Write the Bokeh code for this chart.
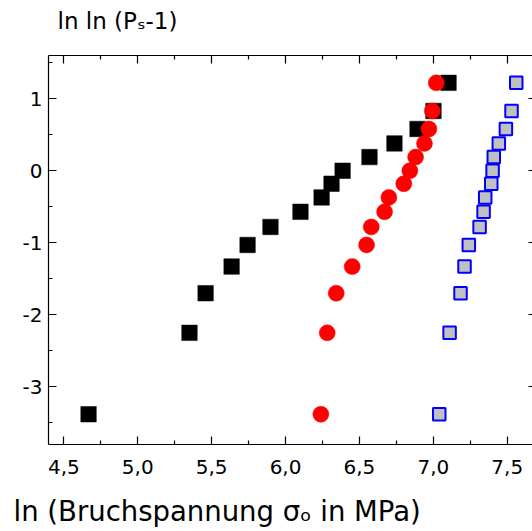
from bokeh.plotting import figure
from bokeh.models import LinearAxis, FixedTicker, CustomJSTickFormatter, Range1d, Title
from bokeh.embed import file_html
from bokeh.resources import INLINE

# Weibull plot: ln ln(1/(1-P)) against ln of the fracture stress for three materials
weibull_y = [-3.38, -2.25, -1.70, -1.33, -1.03, -0.78, -0.57, -0.37,
             -0.18, 0.00, 0.19, 0.38, 0.58, 0.83, 1.22]
ln_sigma_black = [4.667, 5.350, 5.459, 5.635, 5.743, 5.898, 6.101, 6.244,
                  6.311, 6.386, 6.568, 6.737, 6.893, 7.001, 7.103]
ln_sigma_red = [6.239, 6.282, 6.343, 6.451, 6.548, 6.580, 6.670, 6.699,
                6.800, 6.841, 6.880, 6.940, 6.970, 6.993, 7.020]
ln_sigma_blue = [7.040, 7.110, 7.184, 7.211, 7.240, 7.313, 7.340, 7.351,
                 7.392, 7.401, 7.409, 7.443, 7.491, 7.529, 7.561]

x_major = [4.5, 5.0, 5.5, 6.0, 6.5, 7.0, 7.5]
x_minor = [4.75, 5.25, 5.75, 6.25, 6.75, 7.25]
y_major = [-3, -2, -1, 0, 1]
y_minor = [-3.5, -2.5, -1.5, -0.5, 0.5, 1.5]

y_title = "ln ln (P\u209b-1)"
x_title = "ln (Bruchspannung \u03c3\u2092 in MPa)"

FONT = "DejaVu Sans"

p = figure(width=532, height=531, title=None,
           x_range=Range1d(4.396, 7.671), y_range=Range1d(-3.8, 1.6),
           output_backend="svg", toolbar_location=None,
           min_border_left=48, min_border_right=0,
           min_border_top=55, min_border_bottom=87,
           background_fill_color="white", border_fill_color="white")
p.grid.visible = False
p.outline_line_color = None

comma_fmt = CustomJSTickFormatter(code="return tick.toFixed(1).replace('.', ',');")
int_fmt = CustomJSTickFormatter(code="return tick.toFixed(0);")
blank_fmt = CustomJSTickFormatter(code="return '';")


def style_axis(ax, major, minor, fmt, standoff, tick_in=8, minor_in=4, line=True):
    ax.ticker = FixedTicker(ticks=major, minor_ticks=minor)
    ax.formatter = fmt
    ax.major_tick_in = tick_in
    ax.major_tick_out = 0
    ax.minor_tick_in = minor_in
    ax.minor_tick_out = 0
    ax.major_tick_line_color = "black"
    ax.minor_tick_line_color = "black"
    ax.major_tick_line_width = 1.2
    ax.minor_tick_line_width = 1.2
    ax.axis_line_color = "black" if line else None
    ax.axis_line_width = 1.2
    ax.major_label_standoff = standoff
    ax.major_label_text_font = FONT
    ax.major_label_text_font_size = "20px"
    ax.major_label_text_color = "black"
    ax.axis_label = None


style_axis(p.xaxis[0], x_major, x_minor, comma_fmt, 15)
style_axis(p.yaxis[0], y_major, y_minor, int_fmt, 6)

top = LinearAxis()
style_axis(top, x_major, x_minor, blank_fmt, 0)
p.add_layout(top, "above")

right = LinearAxis()
style_axis(right, y_major, [], blank_fmt, 0, tick_in=4, minor_in=0, line=False)
p.add_layout(right, "right")

# data series
p.scatter(ln_sigma_black, weibull_y, marker="square", size=15.5,
          fill_color="black", line_color="black", line_width=0.5)
p.scatter(ln_sigma_red, weibull_y, marker="circle", size=16,
          fill_color="#ff0000", line_color="#ff0000", line_width=0.5)
p.scatter(ln_sigma_blue, weibull_y, marker="square", size=12.5,
          fill_color="#c0c0c0", line_color="#0000ff", line_width=2)


def gap(px):
    # white dot title on white background, used only as vertical spacing
    return Title(text=".", text_font=FONT, text_font_size="2px", standoff=px,
                 text_color="white")


def axis_title(text, size, offset):
    return Title(text=text, align="left", offset=offset, standoff=0,
                 text_font=FONT, text_font_size=size, text_font_style="normal",
                 text_color="black", vertical_align="bottom")


# axis titles, left-aligned in the side panels
p.add_layout(gap(18), "above")
p.add_layout(axis_title(y_title, "23px", 9), "above")
p.add_layout(gap(12), "below")
p.add_layout(axis_title(x_title, "27.5px", -35), "below")

open("out.html", "w").write(file_html(p, INLINE))
